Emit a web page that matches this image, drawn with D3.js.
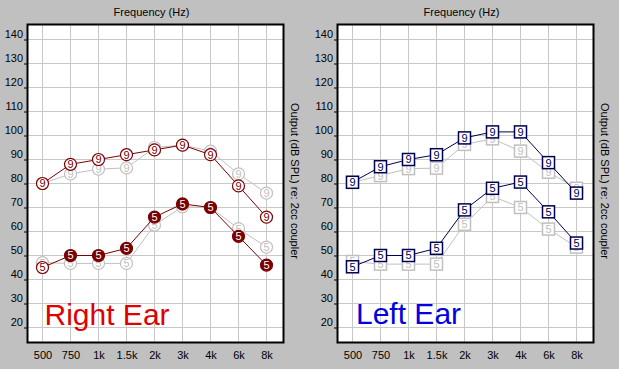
<!DOCTYPE html>
<html><head><meta charset="utf-8">
<script src="https://cdn.jsdelivr.net/npm/d3@7"></script>
<style>
html,body{margin:0;padding:0;background:#c0c0c0;}
svg{display:block;font-family:"Liberation Sans",Arial,sans-serif;}
</style></head>
<body><svg id="c" width="619" height="369"></svg>
<script>
// ---- data ----
const freqLabels = ["500","750","1k","1.5k","2k","3k","4k","6k","8k"];
const yTicks = [20,30,40,50,60,70,80,90,100,110,120,130,140];

// Right ear (circles)
const rightHigh      = [80, 88, 90, 92, 94, 96, 92, 79, 66];
const rightHighRef   = [80, 84, 86, 86.5, 95, 96, 93.5, 84, 76];
const rightLow       = [45, 50, 50, 53, 66, 71.5, 70, 58, 46];
const rightLowRef    = [47, 46.7, 46.7, 46.7, 62.7, 70.3, 70, 61.2, 53.5];
const rightHighLabel = "9";
const rightLowLabel  = "5";

// Left ear (squares)
const leftHigh    = [80.5, 87, 90, 92, 99, 101.5, 101.5, 88.7, 76];
const leftHighRef = [80.5, 83.3, 86.2, 86.4, 96.3, 98.6, 93.5, 84.7, 78];
const leftLow     = [45.3, 50, 50, 53, 69, 78, 80.6, 68.2, 55.2];
const leftLowRef  = [47.5, 46.4, 46.4, 46.4, 63, 74.6, 70, 61, 53.5];

const titleText = "Frequency (Hz)";
const yTitleText = "Output (dB SPL) re: 2cc coupler";

// ---- drawing ----
const svg = d3.select("#c");
const grey = "#c0c0c0", red = "#7b0000", navy = "#000050";

function panel(ox, drawSeries, earText, earColor, earX, earY) {
  const g = svg.append("g").attr("transform", `translate(${ox},0)`);
  const x = d3.scalePoint().domain(freqLabels).range([42.5, 266.5]);
  const y = d3.scaleLinear().domain([20, 140]).range([327.5, 39.5]);

  g.append("rect").attr("x", 27.5).attr("y", 24.5).attr("width", 256).attr("height", 318)
    .attr("fill", "#fff");
  // grid
  g.append("g").selectAll("line").data(freqLabels).join("line")
    .attr("x1", d => x(d)).attr("x2", d => x(d)).attr("y1", 25).attr("y2", 342)
    .attr("stroke", "#c8c8c8").attr("stroke-width", 1);
  g.append("g").selectAll("line").data(yTicks).join("line")
    .attr("x1", 28).attr("x2", 283).attr("y1", d => y(d)).attr("y2", d => y(d))
    .attr("stroke", "#c8c8c8").attr("stroke-width", 1);

  // axes
  const ya = d3.axisLeft(y).tickValues(yTicks).tickSize(3).tickPadding(1);
  const yg = g.append("g").attr("transform", "translate(27,0)").call(ya);
  yg.select(".domain").remove();
  yg.selectAll(".tick line").attr("stroke", "#000");
  yg.selectAll(".tick text").attr("font-size", 11).attr("font-family", "Liberation Sans, Arial, sans-serif")
    .attr("fill", "#000").attr("dy", "-0.2em");

  const xa = d3.axisBottom(x).tickSize(0).tickPadding(6);
  const xg = g.append("g").attr("transform", "translate(0,343)").call(xa);
  xg.select(".domain").remove();
  xg.selectAll(".tick text").attr("font-size", 11).attr("font-family", "Liberation Sans, Arial, sans-serif")
    .attr("fill", "#000").attr("dy", "0.9em");

  g.append("text").attr("x", 151.5).attr("y", 15.5).attr("text-anchor", "middle")
    .attr("font-size", 11).text(titleText);
  g.append("text").attr("transform", "translate(295,181) rotate(90)")
    .attr("text-anchor", "middle").attr("dominant-baseline", "central")
    .attr("font-size", 11).text(yTitleText);

  g.append("text").attr("x", earX).attr("y", earY).attr("font-size", 30)
    .attr("fill", earColor).text(earText);

  drawSeries(g, x, y);

  // frame
  g.append("rect").attr("x", 27.5).attr("y", 24.5).attr("width", 256).attr("height", 318)
    .attr("fill", "none").attr("stroke", "#000").attr("stroke-width", 2);
}

function series(g, x, y, vals, color, shape, label, fillFn, textFn) {
  const pts = vals.map((v, i) => [x(freqLabels[i]), y(v)]);
  g.append("path").attr("d", d3.line()(pts)).attr("fill", "none")
    .attr("stroke", color).attr("stroke-width", 1);
  const m = g.append("g").selectAll("g").data(pts).join("g")
    .attr("transform", d => `translate(${d[0]},${d[1]})`);
  if (shape === "circle") {
    m.append("circle").attr("r", 6).attr("fill", (d, i) => fillFn(i))
      .attr("stroke", color).attr("stroke-width", 1.2);
  } else {
    m.append("rect").attr("x", -6).attr("y", -6).attr("width", 12).attr("height", 12)
      .attr("fill", (d, i) => fillFn(i)).attr("stroke", color).attr("stroke-width", 1.5);
  }
  m.append("text").attr("text-anchor", "middle").attr("dy", "0.36em")
    .attr("font-size", 11).attr("fill", (d, i) => textFn(i)).text(label);
}

panel(0, (g, x, y) => {
  series(g, x, y, rightHighRef, grey, "circle", rightHighLabel, () => "#fff", () => grey);
  series(g, x, y, rightLowRef, grey, "circle", rightLowLabel, () => "#fff", () => grey);
  series(g, x, y, rightHigh, red, "circle", rightHighLabel, () => "#fff", () => red);
  series(g, x, y, rightLow, red, "circle", rightLowLabel, i => i === 0 ? "#fff" : red, i => i === 0 ? red : "#fff");
}, "Right Ear", "#e00000", 44.5, 325);

panel(310, (g, x, y) => {
  series(g, x, y, leftHighRef, grey, "square", rightHighLabel, () => "#fff", () => grey);
  series(g, x, y, leftLowRef, grey, "square", rightLowLabel, () => "#fff", () => grey);
  series(g, x, y, leftHigh, navy, "square", rightHighLabel, () => "#fff", () => navy);
  series(g, x, y, leftLow, navy, "square", rightLowLabel, () => "#fff", () => navy);
}, "Left Ear", "#0000e0", 46, 323.5);
</script></body></html>
